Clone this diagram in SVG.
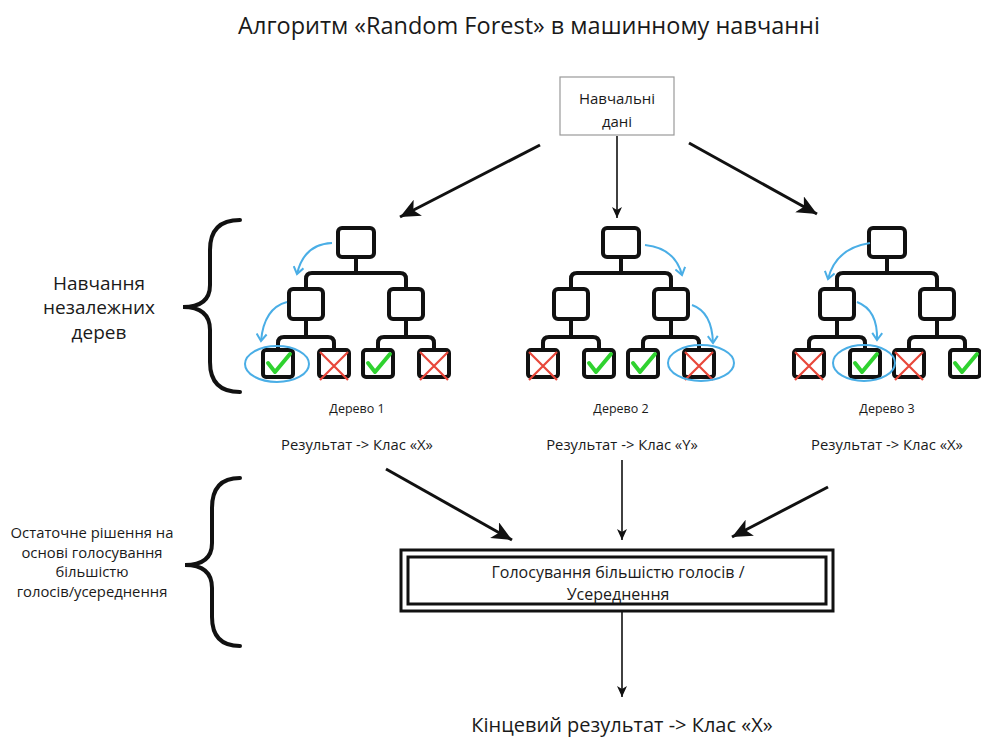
<svg xmlns="http://www.w3.org/2000/svg" xmlns:xlink="http://www.w3.org/1999/xlink" width="981" height="742" viewBox="0 0 981 742">
<style>
text{font-family:"Open Sans","Noto Sans","DejaVu Sans",sans-serif;fill:#1a1a1a;text-anchor:middle}
.title{font-size:23.5px}
.side{font-size:19px}
.side2{font-size:14.8px}
.lbl{font-size:12.5px}
.res{font-size:14.8px}
.box{font-size:15px}
.vote{font-size:16px}
.fin{font-size:20px}
.tl{fill:none;stroke:#111;stroke-width:4;stroke-linejoin:round;stroke-linecap:round}
.tb{fill:#fff;stroke:#111;stroke-width:4}
.blue{fill:none;stroke:#4aaee6;stroke-width:2}
.blk{fill:none;stroke:#111;stroke-width:3}
.blk1{fill:none;stroke:#111;stroke-width:1.6}
.brace{fill:none;stroke:#111;stroke-width:4;stroke-linecap:round}
.ok{fill:none;stroke:#2fd22f;stroke-width:4;stroke-linecap:round;stroke-linejoin:round}
.no{fill:none;stroke:#e8473a;stroke-width:2.2}
</style>
<defs>
<marker id="ah" markerUnits="userSpaceOnUse" markerWidth="24" markerHeight="20" refX="20" refY="9" orient="auto">
<path d="M0,0 L20,9 L0,18 L5,9 Z" fill="#111"/>
</marker>
<marker id="ahs" markerUnits="userSpaceOnUse" markerWidth="14" markerHeight="12" refX="11" refY="5" orient="auto">
<path d="M0,0 L11,5 L0,10 L3,5 Z" fill="#111"/>
</marker>
<marker id="bh" markerUnits="userSpaceOnUse" markerWidth="12" markerHeight="12" refX="8" refY="6" orient="auto">
<path d="M1,1 L8,6 L1,11" fill="none" stroke="#4aaee6" stroke-width="2"/>
</marker>
<g id="tree">
<path class="tl" d="M0 257 V273 M-50 288 V279 Q-50 273 -44 273 H44 Q50 273 50 279 V288 M-50 319 V337 M50 319 V337 M-78 350 V343 Q-78 337 -72 337 H-28 Q-22 337 -22 343 V350 M22 350 V343 Q22 337 28 337 H72 Q78 337 78 343 V350"/>
<rect class="tb" x="-18" y="228" width="36" height="29" rx="4"/>
<rect class="tb" x="-67" y="289" width="34" height="30" rx="4"/>
<rect class="tb" x="33" y="289" width="34" height="30" rx="4"/>
<rect class="tb" x="-93" y="350" width="30" height="27" rx="3"/>
<rect class="tb" x="-37" y="350" width="30" height="27" rx="3"/>
<rect class="tb" x="7" y="350" width="30" height="27" rx="3"/>
<rect class="tb" x="63" y="350" width="30" height="27" rx="3"/>
</g>
<path id="chk" class="ok" d="M-10 363 L-3 372 L12 354"/>
<path id="crs" class="no" d="M-14 352 L14 380 M14 352 L-14 380"/>
</defs>

<text class="title" x="529" y="34">Алгоритм «Random Forest» в машинному навчанні</text>

<g id="connectors">
<line class="blk" x1="540" y1="145" x2="400" y2="217" marker-end="url(#ah)"/>
<line class="blk1" x1="617" y1="136" x2="617" y2="218" marker-end="url(#ahs)"/>
<line class="blk" x1="689" y1="143" x2="817" y2="214" marker-end="url(#ah)"/>
<line class="blk" x1="386" y1="469" x2="512" y2="540" marker-end="url(#ah)"/>
<line class="blk1" x1="622" y1="460" x2="622" y2="540" marker-end="url(#ahs)"/>
<line class="blk" x1="828" y1="487" x2="732" y2="537" marker-end="url(#ah)"/>
<line class="blk1" x1="622" y1="612" x2="622" y2="697" marker-end="url(#ahs)"/>
</g>

<g id="data">
<rect x="560" y="77" width="114" height="58" fill="#fff" stroke="#999" stroke-width="1.2"/>
<text class="box" x="617" y="104">Навчальні</text>
<text class="box" x="617" y="127">дані</text>
</g>

<g id="brace-train">
<path class="brace" d="M240 220 Q210 220 210 250 V285 Q210 307 183 307 Q210 307 210 330 V362 Q210 392 240 392"/>
<text class="side" x="99" y="290">Навчання</text>
<text class="side" x="99" y="314">незалежних</text>
<text class="side" x="99" y="339">дерев</text>
</g>

<g id="tree1" transform="translate(356,0)">
<use xlink:href="#tree"/>
<use xlink:href="#chk" x="-78"/>
<use xlink:href="#crs" x="-22"/>
<use xlink:href="#chk" x="22"/>
<use xlink:href="#crs" x="78"/>
<ellipse class="blue" cx="-79" cy="364" rx="32" ry="18"/>
<path class="blue" d="M-24 243 Q-52 244 -59 274" marker-end="url(#bh)"/>
<path class="blue" d="M-69 302 Q-92 308 -95 341" marker-end="url(#bh)"/>
<text class="lbl" x="1" y="413">Дерево 1</text>
<text class="res" x="1" y="450">Результат -&gt; Клас «X»</text>
</g>

<g id="tree2" transform="translate(621,0)">
<use xlink:href="#tree"/>
<use xlink:href="#crs" x="-78"/>
<use xlink:href="#chk" x="-22"/>
<use xlink:href="#chk" x="22"/>
<use xlink:href="#crs" x="78"/>
<ellipse class="blue" cx="80" cy="363" rx="33" ry="18"/>
<path class="blue" d="M24 245 Q54 248 61 275" marker-end="url(#bh)"/>
<path class="blue" d="M71 305 Q91 312 92 343" marker-end="url(#bh)"/>
<text class="lbl" x="0" y="413">Дерево 2</text>
<text class="res" x="1" y="450">Результат -&gt; Клас «Y»</text>
</g>

<g id="tree3" transform="translate(887,0)">
<use xlink:href="#tree"/>
<use xlink:href="#crs" x="-78"/>
<use xlink:href="#chk" x="-22"/>
<use xlink:href="#crs" x="22"/>
<use xlink:href="#chk" x="78"/>
<ellipse class="blue" cx="-23" cy="363" rx="31" ry="18"/>
<path class="blue" d="M-17 243 Q-51 248 -59 279" marker-end="url(#bh)"/>
<path class="blue" d="M-30 302 Q-9 310 -10 340" marker-end="url(#bh)"/>
<text class="lbl" x="0" y="413">Дерево 3</text>
<text class="res" x="0" y="450">Результат -&gt; Клас «X»</text>
</g>

<g id="brace-vote">
<path class="brace" d="M240 478 Q212 478 212 508 V543 Q212 565 185 565 Q212 565 212 588 V617 Q212 646 240 646"/>
<text class="side2" x="92" y="538">Остаточне рішення на</text>
<text class="side2" x="92" y="558">основі голосування</text>
<text class="side2" x="92" y="577">більшістю</text>
<text class="side2" x="92" y="597">голосів/усереднення</text>
</g>

<g id="vote">
<rect x="401" y="550" width="432" height="61" fill="#fff" stroke="#111" stroke-width="3"/>
<rect x="408" y="557" width="418" height="47" fill="none" stroke="#111" stroke-width="3"/>
<text class="vote" x="618" y="578">Голосування більшістю голосів /</text>
<text class="vote" x="618" y="600">Усереднення</text>
</g>

<g id="final">
<text class="fin" x="622" y="732">Кінцевий результат -&gt; Клас «X»</text>
</g>
</svg>
